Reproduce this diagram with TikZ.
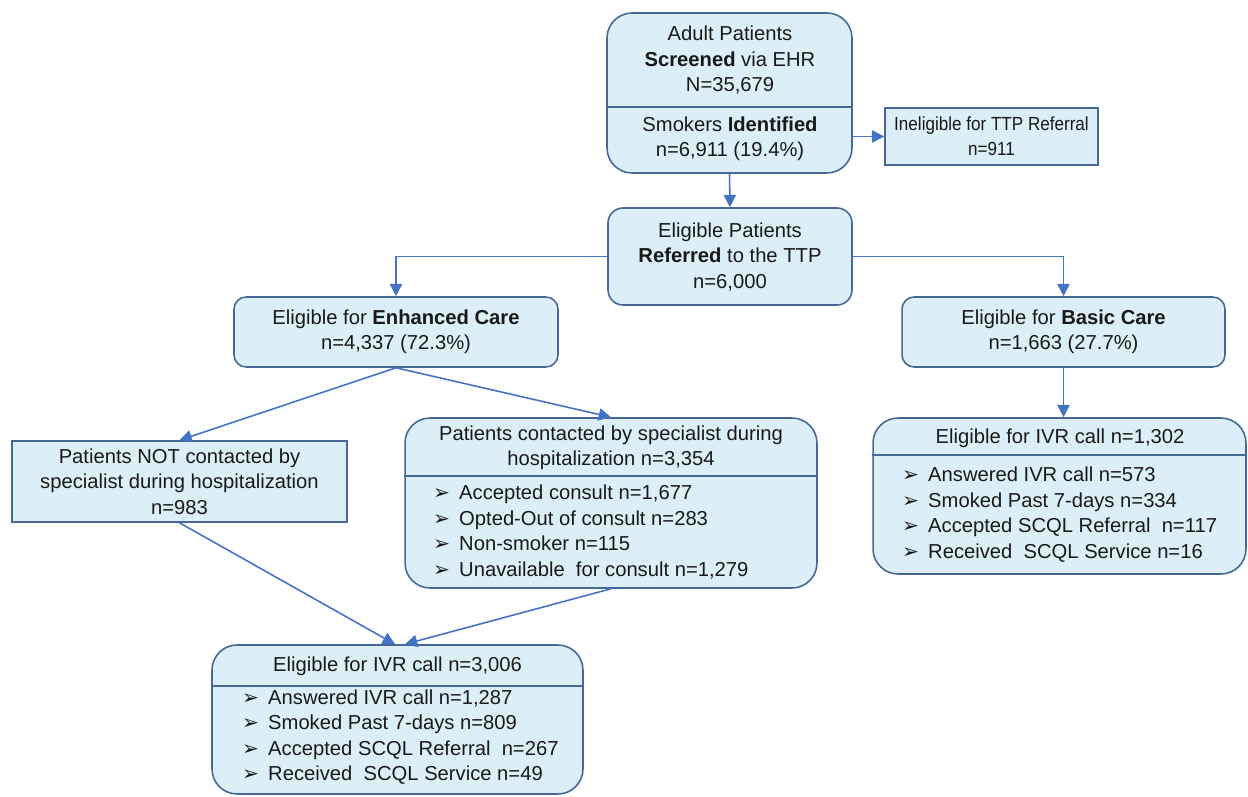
\documentclass[tikz,border=0pt]{standalone}
\usepackage{fontspec}
\setmainfont{Liberation Sans}
\newfontfamily\dingfont{DejaVu Sans}
\newfontfamily\narrowfont{Liberation Sans}[FakeStretch=0.9]
\usetikzlibrary{arrows.meta}
\definecolor{boxfill}{RGB}{220,239,248}
\definecolor{boxline}{RGB}{70,104,152}
\definecolor{flowline}{RGB}{68,114,196}
\newcommand{\itemarrow}{\makebox[0.52cm][l]{\dingfont ➢}}

\begin{document}
\begin{tikzpicture}[x=0.02cm,y=-0.02cm,
		every node/.style={font=\fontsize{11.5}{14.5}\selectfont, text=black!90},
		roundbox/.style={draw=boxline, fill=boxfill, line width=0.9pt, rounded corners=#1, inner sep=0pt, align=center},
		roundbox/.default=0.3cm,
		flatbox/.style={draw=boxline, fill=boxfill, line width=0.9pt, inner sep=0pt, align=center},
		divider/.style={draw=boxline, line width=0.9pt},
		flow/.style={draw=flowline, line width=0.9pt, -{Triangle[length=7pt,width=7pt]}}]
		\useasboundingbox (0,0) rectangle (1248,797);
		
		% boxes
		\node[roundbox=0.5cm, minimum width=4.9cm, minimum height=3.2cm] (screen) at (729.5,93) {};
		\node[flatbox, minimum width=4.26cm, minimum height=1.14cm, font=\narrowfont\fontsize{10.8}{14}\selectfont] (inelig) at (991.5,136.5) {Ineligible for TTP Referral\\n=911};
		\node[roundbox=0.3cm, minimum width=4.88cm, minimum height=1.94cm] (refer) at (730,256.5) {Eligible Patients\\\textbf{Referred} to the TTP\\n=6,000};
		\node[roundbox=0.24cm, minimum width=6.48cm, minimum height=1.4cm] (enh) at (396,332) {Eligible for \textbf{Enhanced Care}\\n=4,337 (72.3\%)};
		\node[roundbox=0.24cm, minimum width=6.46cm, minimum height=1.4cm] (basic) at (1063.5,332) {Eligible for \textbf{Basic Care}\\n=1,663 (27.7\%)};
		\node[flatbox, minimum width=6.7cm, minimum height=1.62cm] (notc) at (179.5,481.5) {Patients NOT contacted by\\specialist during hospitalization\\n=983};
		\node[roundbox=0.5cm, minimum width=8.24cm, minimum height=3.4cm] (contc) at (611,503) {};
		\node[roundbox=0.5cm, minimum width=7.42cm, minimum height=2.98cm] (ivrL) at (397.5,719.5) {};
		\node[roundbox=0.5cm, minimum width=7.46cm, minimum height=3.12cm] (ivrR) at (1059.5,496) {};
		
		% dividers
		\coordinate (screenDiv) at (730,107);
		\coordinate (contcDiv) at (611,476);
		\coordinate (ivrLDiv) at (397,686);
		\coordinate (ivrRDiv) at (1060,455);
		\draw[divider] (screen.west |- screenDiv) -- (screen.east |- screenDiv);
		\draw[divider] (contc.west |- contcDiv) -- (contc.east |- contcDiv);
		\draw[divider] (ivrL.west |- ivrLDiv) -- (ivrL.east |- ivrLDiv);
		\draw[divider] (ivrR.west |- ivrRDiv) -- (ivrR.east |- ivrRDiv);
		
		% texts in split boxes
		\node[align=center] (screenA) at (730,60) {Adult Patients\\\textbf{Screened} via EHR\\N=35,679};
		\node[align=center] (screenB) at (730,139) {Smokers \textbf{Identified}\\n=6,911 (19.4\%)};
		\node[align=center] (contcA) at (611,448) {Patients contacted by specialist during\\hospitalization n=3,354};
		\node[align=left, anchor=west] (contcB) at (427,532) {\itemarrow Accepted consult n=1,677\\\itemarrow Opted-Out of consult n=283\\\itemarrow Non-smoker n=115\\\itemarrow Unavailable\ \ for consult n=1,279};
		\node (ivrLA) at (397.5,666) {Eligible for IVR call n=3,006};
		\node[align=left, anchor=west] (ivrLB) at (236,737) {\itemarrow Answered IVR call n=1,287\\\itemarrow Smoked Past 7-days n=809\\\itemarrow Accepted SCQL Referral\ \ n=267\\\itemarrow Received\ \ SCQL Service n=49};
		\node (ivrRA) at (1060,438) {Eligible for IVR call n=1,302};
		\node[align=left, anchor=west] (ivrRB) at (896,514.5) {\itemarrow Answered IVR call n=573\\\itemarrow Smoked Past 7-days n=334\\\itemarrow Accepted SCQL Referral\ \ n=117\\\itemarrow Received\ \ SCQL Service n=16};
		
		% connectors
		\draw[flow] (screen.south) -- (refer.north);
		\draw[flow] (screen.east |- inelig.west) -- (inelig.west);
		\draw[flow] (refer.west) -| (enh.north);
		\draw[flow] (refer.east) -| (basic.north);
		\draw[flow] (enh.south) -- (notc.north);
		\draw[flow] (enh.south) -- (contc.north);
		\draw[flow] (notc.south) -- ([xshift=-0.05cm]ivrL.north);
		\draw[flow] (contc.south) -- ([xshift=0.15cm]ivrL.north);
		\draw[flow] (basic.south) -- (basic.south |- ivrR.north);
\end{tikzpicture}
\end{document}
